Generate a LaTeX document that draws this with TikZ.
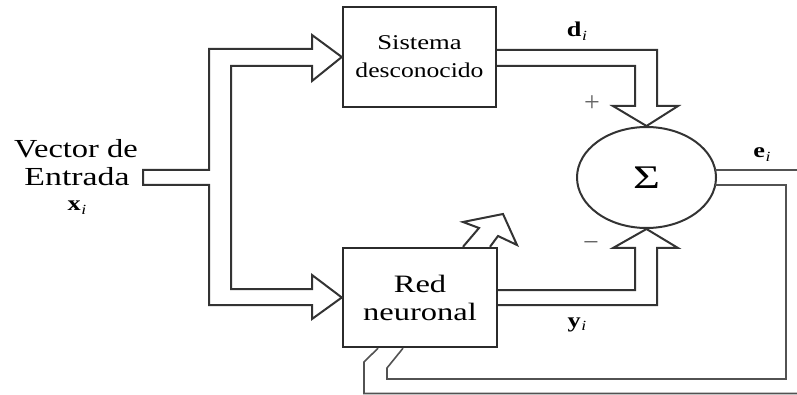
\documentclass[tikz,border=0pt]{standalone}
\usepackage{fontspec}
\setmainfont{Liberation Serif}
\usetikzlibrary{shapes.geometric,calc}
\definecolor{ink}{HTML}{333333}
\definecolor{boxink}{HTML}{2B2B2B}
\definecolor{signgray}{HTML}{666666}
% horizontally widened text
\newcommand\wide[2]{\scalebox{#1}[1]{#2}}
% bold vector symbol with italic subscript i
\newcommand\vecsym[1]{\textbf{#1}\kern0.5pt\raisebox{-0.35ex}{\fontsize{14}{14}\selectfont\itshape i}}
\begin{document}
\begin{tikzpicture}[x=1pt,y=-1pt,
  box/.style={draw=boxink,line width=2.4pt,fill=white,inner sep=0pt,align=center},
  sumnode/.style={draw=ink,ellipse,line width=2pt,inner sep=0pt,
    minimum width=139pt,minimum height=101pt},
  pipe/.style={draw=ink,line width=2pt,line join=miter},
  wire/.style={draw=ink!85,line width=1.6pt,line join=miter},
  sign/.style={text=signgray,font=\fontsize{28}{28}\selectfont,inner sep=0pt},
  lab/.style={anchor=base,inner sep=0pt,font=\fontsize{21}{21}\selectfont},
  side/.style={anchor=base,inner sep=0pt,font=\fontsize{26}{26}\selectfont}]
\useasboundingbox (0,0) rectangle (797,395);

% blocks
\node[box,minimum width=153pt,minimum height=100pt,
  font=\fontsize{21}{28}\selectfont] (sis) at (419.5,57)
  {\wide{1.27}{Sistema}\\\wide{1.22}{desconocido}};
\node[box,minimum width=154pt,minimum height=99pt,
  font=\fontsize{25}{28}\selectfont] (red) at (420,297.5)
  {\wide{1.3}{Red}\\\wide{1.3}{neuronal}};
\node[sumnode] (sum) at (646.5,177.5) {\fontsize{33}{33}\selectfont\wide{1.4}{Σ}};

% input band, splitting into both blocks
\coordinate (inTop) at (143,170);
\coordinate (inBot) at (143,185);
\draw[pipe] (inTop) -- (209,170) -- (209,49) -- (312,49) -- (312,35)
  -- (sis.west) -- (312,81) -- (312,66) -- (231,66) -- (231,289)
  -- (312,289) -- (312,275) -- (red.west) -- (312,319) -- (312,305)
  -- (209,305) -- (209,185) -- (inBot) -- cycle;

% desired output d_i into the summer
\draw[pipe] ($(sis.east)+(0,-7)$) -- (657,50) -- (657,106) -- (678,106)
  -- (sum.north) -- (613,106) -- (635,106) -- (635,66) -- ($(sis.east)+(0,9)$);

% network output y_i into the summer
\draw[pipe] ($(red.east)+(0,7.5)$) -- (657,305) -- (657,248) -- (678,248)
  -- (sum.south) -- (613,248) -- (635,248) -- (635,290) -- ($(red.east)+(0,-7.5)$);

% adaptation arrow
\draw[pipe] ($(red.north)+(43,0)$) -- (479,228) -- (463,222) -- (503,214)
  -- (517,245) -- (498,236) -- ($(red.north)+(70,0)$);

% error e_i and its feedback to the network
\coordinate (eOut) at (797,170);
\coordinate (fbOut) at (797,393.5);
\draw[wire] (715.2,170) -- (eOut);
\draw[wire] (715.2,185) -- (786,185) -- (786,379) -- (387,379) -- (387,368)
  -- ($(red.south)+(-17,0)$);
\draw[wire] ($(red.south)+(-42,0)$) -- (364,362) -- (364,393.5) -- (fbOut);

% signs
\node[sign] (plus) at (592,104) {+};
\node[sign] (minus) at (591,247) {−};

% signal labels
\node[lab] (dlab) at (577,37) {\wide{1.25}{\vecsym{d}}};
\node[lab] (ylab) at (577,327) {\wide{1.25}{\vecsym{y}}};
\node[lab] (elab) at (762,158) {\wide{1.25}{\vecsym{e}}};

% input description
\node[side] (vec1) at (76,158) {\wide{1.25}{Vector de}};
\node[side] (vec2) at (77,186) {\wide{1.3}{Entrada}};
\node[lab] (xlab) at (77,211) {\wide{1.25}{\vecsym{x}}};
\end{tikzpicture}
\end{document}
